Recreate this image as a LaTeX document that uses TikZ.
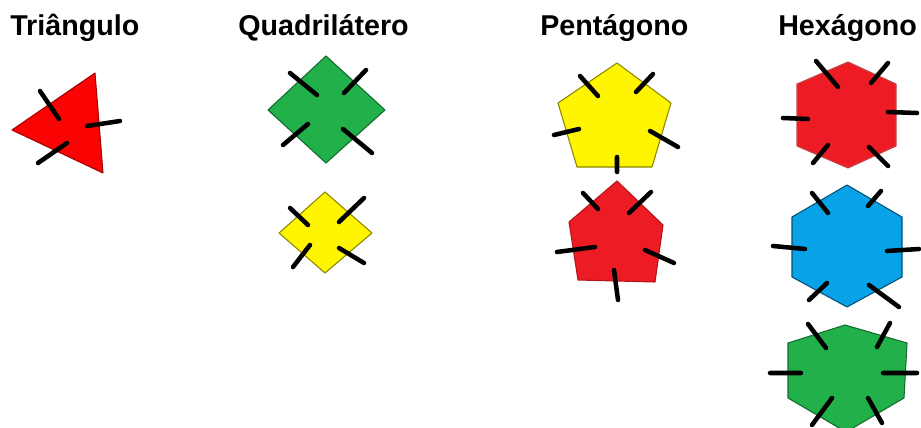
\documentclass[tikz,border=0pt]{standalone}
\usepackage{fontspec}
\setmainfont{Liberation Sans}
\usetikzlibrary{positioning}
\definecolor{triRed}{HTML}{FA0303}
\definecolor{paintRed}{HTML}{ED1C24}
\definecolor{paintGreen}{HTML}{22B04B}
\definecolor{paintYellow}{HTML}{FFF500}
\definecolor{paintBlue}{HTML}{08A2E8}

\begin{document}
\begin{tikzpicture}[
    x=0.75pt, y=-0.75pt,
    title/.style={anchor=base west, inner sep=0pt,
                  font=\fontsize{21.5}{24}\selectfont\bfseries},
    poly/.style={line width=0.8pt, line join=round},
    bond/.style={line width=3.4pt, line cap=round},
]
    \useasboundingbox (0,0) rectangle (921,428);

    % Column titles.
    \node[title] (tri) at (10,36) {Triângulo};
    \node[title] (quad) at (238,36) {Quadrilátero};
    \node[title] (pent) at (540,36) {Pentágono};
    \node[title] (hex) at (778,36) {Hexágono};

    % Triangle.
    \draw[poly, draw=triRed!65!black, fill=triRed] (12,130) -- (95,73) -- (103,173) -- cycle;
    \draw[bond] (40,91) -- (59,119) (87,126) -- (120,121) (67,143) -- (38,163);

    % Quadrilaterals.
    \draw[poly, draw=paintGreen!60!black, fill=paintGreen]
        (326,56) -- (385,110) -- (326,163) -- (268,110) -- cycle;
    \draw[bond] (290,73) -- (317,95) (366,70) -- (344,93)
                (308,124) -- (283,145) (343,129) -- (372,153);
    \draw[poly, draw=paintYellow!55!black, fill=paintYellow]
        (325,192) -- (372,233) -- (325,273) -- (279,233) -- cycle;
    \draw[bond] (290,208) -- (308,225) (364,198) -- (339,222)
                (310,245) -- (293,267) (339,248) -- (364,263);

    % Pentagons.
    \draw[poly, draw=paintYellow!55!black, fill=paintYellow]
        (617,63) -- (671,103) -- (652,167) -- (577,167) -- (558,103) -- cycle;
    \draw[bond] (580,76) -- (598,96) (653,74) -- (636,92) (554,135) -- (579,129)
                (650,131) -- (678,147) (617,157) -- (617,172);
    \draw[poly, draw=paintRed!75!black, fill=paintRed]
        (617,181) -- (663,225) -- (655,282) -- (578,280) -- (569,222) -- cycle;
    \draw[bond] (583,193) -- (598,209) (651,192) -- (629,213) (557,252) -- (595,247)
                (645,250) -- (674,263) (614,270) -- (618,300);

    % Hexagons.
    \draw[poly, draw=paintRed!60!gray, fill=paintRed]
        (848,62) -- (896,84) -- (896,146) -- (848,168) -- (797,146) -- (797,84) -- cycle;
    \draw[bond] (816,61) -- (838,87) (888,63) -- (871,83) (783,118) -- (808,119)
                (888,112) -- (917,113) (828,145) -- (813,163) (869,147) -- (888,166);
    \draw[poly, draw=paintBlue!50!black, fill=paintBlue]
        (847,185) -- (902,217) -- (902,277) -- (847,307) -- (792,277) -- (792,217) -- cycle;
    \draw[bond] (812,193) -- (828,213) (881,191) -- (868,206) (773,246) -- (805,249)
                (887,251) -- (919,249) (827,283) -- (809,300) (869,285) -- (899,307);
    \draw[poly, draw=paintGreen!60!black, fill=paintGreen]
        (845,325) -- (907,343) -- (904,398) -- (846,432) -- (788,398) -- (788,343) -- cycle;
    \draw[bond] (808,324) -- (826,348) (890,323) -- (877,347) (770,373) -- (801,373)
                (883,373) -- (917,373) (832,398) -- (812,425) (868,398) -- (882,423);
\end{tikzpicture}
\end{document}
